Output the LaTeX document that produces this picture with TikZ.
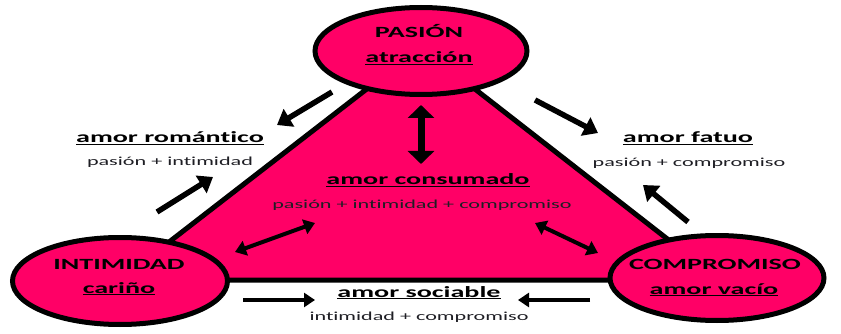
\documentclass[tikz,border=0pt]{standalone}
\usepackage{fontspec}
\setmainfont{Carlito}[FakeStretch=1.8,Ligatures=NoCommon]
\usetikzlibrary{shapes.geometric,arrows.meta}
\definecolor{pinkfill}{RGB}{255,0,102}
\definecolor{txt}{RGB}{30,30,36}
\begin{document}
\begin{tikzpicture}[x=1pt,y=-1pt,
 blob/.style={ellipse, draw=black, line width=5pt, fill=pinkfill, inner sep=0},
 title/.style={font=\fontsize{15.6}{17}\selectfont\bfseries, inner sep=0, anchor=base, text=black},
 sub/.style={font=\fontsize{12.3}{14}\selectfont, inner sep=0, anchor=base, text=txt},
 tri/.style={draw=black, line width=5pt, fill=pinkfill, line join=miter},
 arr/.style={line width=5.5pt, -{Triangle[length=14pt,width=20pt]}},
 arrs/.style={line width=4pt, -{Triangle[length=11pt,width=14pt]}},
 dbl/.style={line width=4pt, {Triangle[length=11pt,width=15pt]}-{Triangle[length=11pt,width=15pt]}},
 dblv/.style={line width=7pt, {Triangle[length=13pt,width=26pt]}-{Triangle[length=13pt,width=26pt]}},
]
\useasboundingbox (0,0) rectangle (841,334);
% triangle
\coordinate (ta) at (421,47);
\coordinate (tl) at (120,280);
\coordinate (tr) at (720,280);
\draw[tri] (ta) -- (tl) -- (tr) -- cycle;
% ellipses
\node[blob, minimum width=212pt, minimum height=87pt] (pas) at (421,51) {};
\node[blob, minimum width=215pt, minimum height=87pt] (int) at (120,281) {};
\node[blob, minimum width=214pt, minimum height=85pt] (com) at (717,278) {};
% ellipse texts
\node[title] (pasT) at (419,38) {PASIÓN};
\node[title] (pasS) at (419,63) {\underline{atracción}};
\node[title] (intT) at (119,269) {INTIMIDAD};
\node[title] (intS) at (119,293) {\underline{cariño}};
\node[title] (comT) at (715,269) {COMPROMISO};
\node[title] (comS) at (714,294) {\underline{amor vacío}};
% love types
\node[title] (rom) at (170,143) {\underline{amor romántico}};
\node[sub] (romS) at (170,166) {pasión + intimidad};
\node[title] (fat) at (688,143) {\underline{amor fatuo}};
\node[sub] (fatS) at (689,167) {pasión + compromiso};
\node[title] (con) at (428,185) {\underline{amor consumado}};
\node[sub] (conS) at (422,208) {pasión + intimidad + compromiso};
\node[title] (soc) at (419,297) {\underline{amor sociable}};
\node[sub] (socS) at (419,320) {intimidad + compromiso};
% arrow end points
\coordinate (a1s) at (332,92);  \coordinate (a1e) at (277,125);
\coordinate (a2s) at (157,212); \coordinate (a2e) at (213,177);
\coordinate (a3s) at (535,100); \coordinate (a3e) at (598,133);
\coordinate (a4s) at (688,222); \coordinate (a4e) at (643,185);
\coordinate (vs) at (421,105);  \coordinate (ve) at (421,164);
\coordinate (d1s) at (235,252); \coordinate (d1e) at (315,223);
\coordinate (d2s) at (535,223); \coordinate (d2e) at (598,253);
\coordinate (b1s) at (243,300); \coordinate (b1e) at (315,300);
\coordinate (b2s) at (590,300); \coordinate (b2e) at (518,300);
% arrows
\draw[arr] (a1s) -- (a1e);
\draw[arr] (a2s) -- (a2e);
\draw[arr] (a3s) -- (a3e);
\draw[arr] (a4s) -- (a4e);
\draw[dblv] (vs) -- (ve);
\draw[dbl] (d1s) -- (d1e);
\draw[dbl] (d2s) -- (d2e);
\draw[arrs] (b1s) -- (b1e);
\draw[arrs] (b2s) -- (b2e);
\end{tikzpicture}
\end{document}
